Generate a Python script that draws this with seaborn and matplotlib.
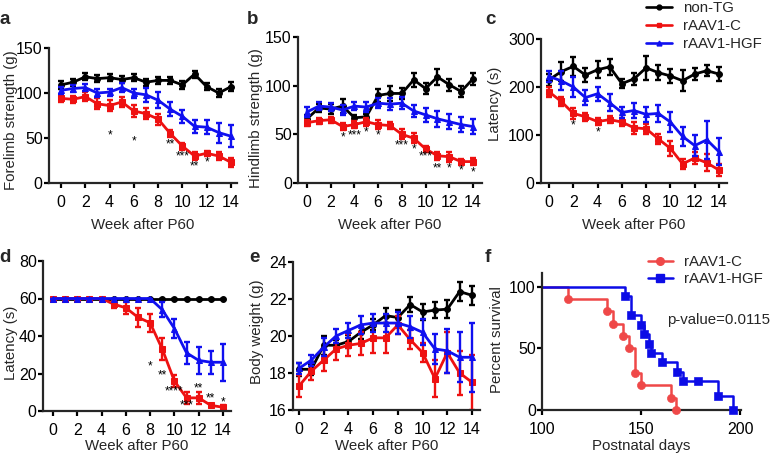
import numpy as np
import pandas as pd
import matplotlib
matplotlib.use("Agg")
import matplotlib.pyplot as plt
import seaborn as sns
from matplotlib.lines import Line2D

# ---------------- data ----------------
weeks = list(range(15))
groups = ["non-TG", "rAAV1-C", "rAAV1-HGF"]

# a: forelimb strength (g)
fore_ntg = [109, 112, 118, 116, 117, 115, 117, 112, 114, 114, 109, 121, 107, 100, 107]
fore_c = [94, 93, 96, 88, 86, 90, 80, 77, 71, 55, 41, 30, 33, 30, 23]
fore_hgf = [103, 105, 106, 100, 101, 106, 100, 98, 92, 82, 74, 63, 62, 56, 52]
fore_ntg_err = [4, 4, 4, 4, 4, 4, 4, 4, 4, 4, 4, 4, 4, 4, 5]
fore_c_err = [4, 4, 5, 6, 6, 6, 7, 6, 6, 4, 4, 4, 3, 4, 5]
fore_hgf_err = [4, 4, 4, 4, 4, 5, 5, 8, 9, 8, 7, 7, 8, 11, 12]
fore_stars = {4: ("*", 53), 6: ("*", 46), 9: ("**", 43), 10: ("***", 29), 11: ("**", 18), 12: ("*", 23)}

# b: hindlimb strength (g)
hind_ntg = [66, 77, 76, 79, 67, 68, 90, 92, 92, 106, 97, 109, 101, 94, 107]
hind_c = [62, 64, 65, 58, 60, 63, 60, 59, 50, 46, 35, 28, 27, 22, 22]
hind_hgf = [73, 79, 78, 75, 79, 78, 82, 81, 82, 74, 70, 66, 63, 60, 58]
hind_ntg_err = [4, 4, 5, 7, 3, 3, 7, 8, 6, 7, 6, 8, 6, 6, 6]
hind_c_err = [3, 3, 3, 4, 4, 4, 5, 4, 5, 5, 3, 4, 5, 3, 4]
hind_hgf_err = [5, 4, 4, 5, 4, 5, 5, 6, 6, 6, 7, 8, 8, 8, 8]
hind_stars = {3: ("*", 47), 4: ("***", 49), 5: ("*", 52), 6: ("*", 49), 8: ("***", 39), 9: ("*", 34),
              10: ("***", 27), 11: ("**", 15), 12: ("*", 15), 13: ("*", 12.5), 14: ("*", 11)}

# c: rotarod latency (s)
rot_ntg = [215, 232, 243, 225, 236, 242, 207, 217, 240, 230, 223, 213, 227, 234, 227]
rot_c = [190, 170, 145, 138, 128, 132, 127, 115, 113, 92, 72, 40, 52, 42, 27]
rot_hgf = [222, 213, 200, 178, 186, 167, 147, 151, 143, 145, 127, 97, 78, 90, 65]
rot_ntg_err = [12, 20, 20, 14, 18, 16, 10, 12, 25, 15, 15, 22, 12, 12, 15]
rot_c_err = [10, 10, 12, 8, 8, 8, 8, 12, 10, 10, 15, 10, 12, 18, 12]
rot_hgf_err = [12, 20, 20, 15, 15, 18, 12, 15, 15, 18, 20, 20, 22, 40, 28]
rot_stars = {2: ("*", 119), 4: ("*", 105)}

# d: hanging latency (s)
hang_ntg = [60] * 15
hang_c = [60, 60, 60, 60, 60, 57, 55, 50, 47, 33, 16, 7, 7, 3, 2]
hang_hgf = [60, 60, 60, 60, 60, 60, 60, 60, 60, 54, 44, 31, 27, 26, 26]
hang_ntg_err = [0] * 15
hang_c_err = [0, 0, 0, 0, 0, 2, 3, 5, 5, 6, 3, 3, 3, 1, 1]
hang_hgf_err = [0, 0, 0, 0, 0, 0, 0, 0, 0, 4, 5, 6, 7, 6, 10]
hang_stars = {8: ("*", 24), 9: ("**", 18.7), 10: ("****", 10.3), 11: ("***", 3.2),
              12: ("**", 12.1), 13: ("**", 6.8), 14: ("*", 4.4)}

# e: body weight (g)
bw_ntg = [18.2, 18.2, 19.5, 19.5, 19.7, 20.2, 20.6, 21.1, 21.0, 21.7, 21.3, 21.4, 21.45, 22.4, 22.2]
bw_c = [17.3, 18.1, 18.7, 19.3, 19.5, 19.6, 19.9, 19.9, 20.6, 19.8, 19.1, 17.7, 19.1, 18.0, 17.5]
bw_hgf = [18.25, 18.7, 19.4, 20.0, 20.3, 20.6, 20.7, 20.7, 20.7, 20.5, 20.2, 19.3, 19.2, 18.85, 18.85]
bw_ntg_err = [0.35, 0.3, 0.5, 0.3, 0.35, 0.35, 0.3, 0.4, 0.4, 0.4, 0.45, 0.45, 0.5, 0.5, 0.5]
bw_c_err = [0.6, 0.5, 0.6, 0.6, 0.6, 0.6, 0.8, 0.8, 0.5, 0.5, 0.5, 1.0, 1.1, 1.2, 1.5]
bw_hgf_err = [0.3, 0.3, 0.5, 0.4, 0.4, 0.5, 0.5, 0.5, 0.6, 0.6, 0.7, 0.8, 1.2, 1.35, 1.85]

# f: Kaplan-Meier survival
km_c_days = [100, 113, 133, 136, 141, 144, 147, 150, 165, 167.5]
km_c_surv = [100, 90, 80, 70, 60, 50, 30, 20, 10, 0]
km_hgf_days = [100, 141.7, 145, 150, 151.3, 154, 155.3, 160.8, 168, 171, 179, 188.7, 196.3]
km_hgf_surv = [100, 92.3, 76.9, 69.2, 61.5, 53.8, 46.2, 38.5, 30.8, 23.1, 23.1, 11.5, 0]
p_value_text = "p-value=0.0115"

# ---------------- style ----------------
sns.set_theme(style="ticks")
plt.rcParams["font.family"] = ["Liberation Sans", "DejaVu Sans"]
plt.rcParams["axes.linewidth"] = 1.6

W, H = 777, 459
fig = plt.figure(figsize=(W / 100, H / 100), dpi=100)

colors = {"non-TG": "#000000", "rAAV1-C": "#ee1111", "rAAV1-HGF": "#1010f0"}
markers = {"non-TG": "o", "rAAV1-C": "s", "rAAV1-HGF": "^"}
FS = 10.8
TFS = 11.5


def add_ax(l, r, t, b):
    return fig.add_axes([l / W, 1 - b / H, (r - l) / W, (b - t) / H])


def style_ax(ax, l, r, t, b, ylab, ylab_px, xlab, xlab_py, xlab_px=None):
    for s in ["top", "right"]:
        ax.spines[s].set_visible(False)
    for s in ["left", "bottom"]:
        ax.spines[s].set_linewidth(1.6)
    ax.tick_params(axis="both", direction="out", length=3.5, width=1.6, labelsize=TFS, colors="black")
    ax.tick_params(axis="x", pad=5)
    ax.tick_params(axis="y", pad=1)
    ax.set_ylabel(ylab, fontsize=FS, va="center", ha="center")
    ax.yaxis.set_label_coords((ylab_px[0] - l) / (r - l), (b - ylab_px[1]) / (b - t))
    ax.set_xlabel(xlab, fontsize=FS, va="center", ha="center")
    cx = (l + r) / 2 if xlab_px is None else xlab_px
    ax.xaxis.set_label_coords((cx - l) / (r - l), (b - xlab_py) / (b - t))


def time_panel(box, ntg, c, hgf, ntg_e, c_e, hgf_e, xlim, ylim, yticks, ylab, ylab_px, xlab_py, stars=None):
    l, r, t, b = box
    ax = add_ax(l, r, t, b)
    df = pd.DataFrame({
        "week": weeks * 3,
        "value": ntg + c + hgf,
        "group": [groups[0]] * 15 + [groups[1]] * 15 + [groups[2]] * 15,
    })
    errs = {"non-TG": ntg_e, "rAAV1-C": c_e, "rAAV1-HGF": hgf_e}
    for g in groups:
        sub = df[df["group"] == g]
        sns.lineplot(data=sub, x="week", y="value", color=colors[g], marker=markers[g],
                     markersize=4.2, markeredgecolor=colors[g], linewidth=2.0, ax=ax,
                     errorbar=None, legend=False)
        ax.errorbar(sub["week"], sub["value"], yerr=errs[g], fmt="none", ecolor=colors[g],
                    elinewidth=1.7, capsize=2.4, capthick=1.7)
    if stars:
        for wk, (s, y) in stars.items():
            ax.text(wk, y, s, ha="center", va="center", fontsize=8.5, color="black")
    ax.set_xlim(*xlim)
    ax.set_ylim(*ylim)
    ax.set_xticks(range(0, 15, 2))
    ax.set_yticks(yticks)
    style_ax(ax, l, r, t, b, ylab, ylab_px, "Week after P60", xlab_py)
    return ax


time_panel((49, 237, 48, 183), fore_ntg, fore_c, fore_hgf, fore_ntg_err, fore_c_err, fore_hgf_err,
           (-0.99, 14.5), (0, 150), [0, 50, 100, 150], "Forelimb strength (g)", (11, 120), 225, fore_stars)
time_panel((298, 482, 37, 183), hind_ntg, hind_c, hind_hgf, hind_ntg_err, hind_c_err, hind_hgf_err,
           (-0.76, 14.76), (0, 150), [0, 50, 100, 150], "Hindlimb strength (g)", (256, 118), 225, hind_stars)
time_panel((541, 727, 39, 183), rot_ntg, rot_c, rot_hgf, rot_ntg_err, rot_c_err, rot_hgf_err,
           (-0.66, 14.66), (0, 300), [0, 100, 200, 300], "Latency (s)", (495, 104), 225, rot_stars)
time_panel((43, 231, 261, 411), hang_ntg, hang_c, hang_hgf, hang_ntg_err, hang_c_err, hang_hgf_err,
           (-0.82, 14.66), (0, 80), [0, 20, 40, 60, 80], "Latency (s)", (11, 343), 446, hang_stars)
time_panel((293, 480, 262, 410), bw_ntg, bw_c, bw_hgf, bw_ntg_err, bw_c_err, bw_hgf_err,
           (-0.49, 14.65), (16, 24), [16, 18, 20, 22, 24], "Body weight (g)", (257, 332), 446)

# f: survival
l, r, t, b = 542, 741, 273, 410
axf = add_ax(l, r, t, b)
km_red, km_blue = "#ef4848", "#0c0ce6"
sns.lineplot(x=km_c_days, y=km_c_surv, drawstyle="steps-post", color=km_red, linewidth=1.8,
             ax=axf, errorbar=None, sort=False)
sns.lineplot(x=km_hgf_days, y=km_hgf_surv, drawstyle="steps-post", color=km_blue, linewidth=1.8,
             ax=axf, errorbar=None, sort=False)
sns.scatterplot(x=km_c_days[1:], y=km_c_surv[1:], marker="o", s=34, color=km_red,
                edgecolor=km_red, ax=axf, clip_on=False, zorder=3)
sns.scatterplot(x=km_hgf_days[1:], y=km_hgf_surv[1:], marker="s", s=34, color=km_blue,
                edgecolor=km_blue, ax=axf, clip_on=False, zorder=3)
axf.set_xlim(100, 200.5)
axf.set_ylim(0, 111)
axf.set_xticks([100, 150, 200])
axf.set_yticks([0, 50, 100])
style_ax(axf, l, r, t, b, "Percent survival", (497, 340), "Postnatal days", 446)
fig.text(667 / W, 1 - 320 / H, p_value_text, fontsize=FS, ha="left", va="center")
km_handles = [Line2D([], [], color=km_red, marker="o", markersize=5.5, lw=1.8),
              Line2D([], [], color=km_blue, marker="s", markersize=5.5, lw=1.8)]
fig.legend(km_handles, ["rAAV1-C", "rAAV1-HGF"], loc="upper left",
           bbox_to_anchor=(648 / W, 1 - 255 / H), frameon=False, fontsize=FS,
           handlelength=1.65, handletextpad=0.75, labelspacing=0.2, borderpad=0, borderaxespad=0)

# top legend
top_handles = [Line2D([], [], color=colors[g], marker=markers[g], markersize=3.5, lw=1.9) for g in groups]
fig.legend(top_handles, groups, loc="upper left", bbox_to_anchor=(646 / W, 1 - 1 / H),
           frameon=False, fontsize=FS, handlelength=1.75, handletextpad=0.75,
           labelspacing=0.28, borderpad=0, borderaxespad=0)

# panel letters
for letter, (x, y) in {"a": (5, 19), "b": (253, 19), "c": (490, 20), "d": (5, 258),
                       "e": (254, 258), "f": (488, 258)}.items():
    fig.text(x / W, 1 - y / H, letter, fontsize=13.5, fontweight="bold", ha="center", va="center")

fig.savefig("out.png", dpi=100)
